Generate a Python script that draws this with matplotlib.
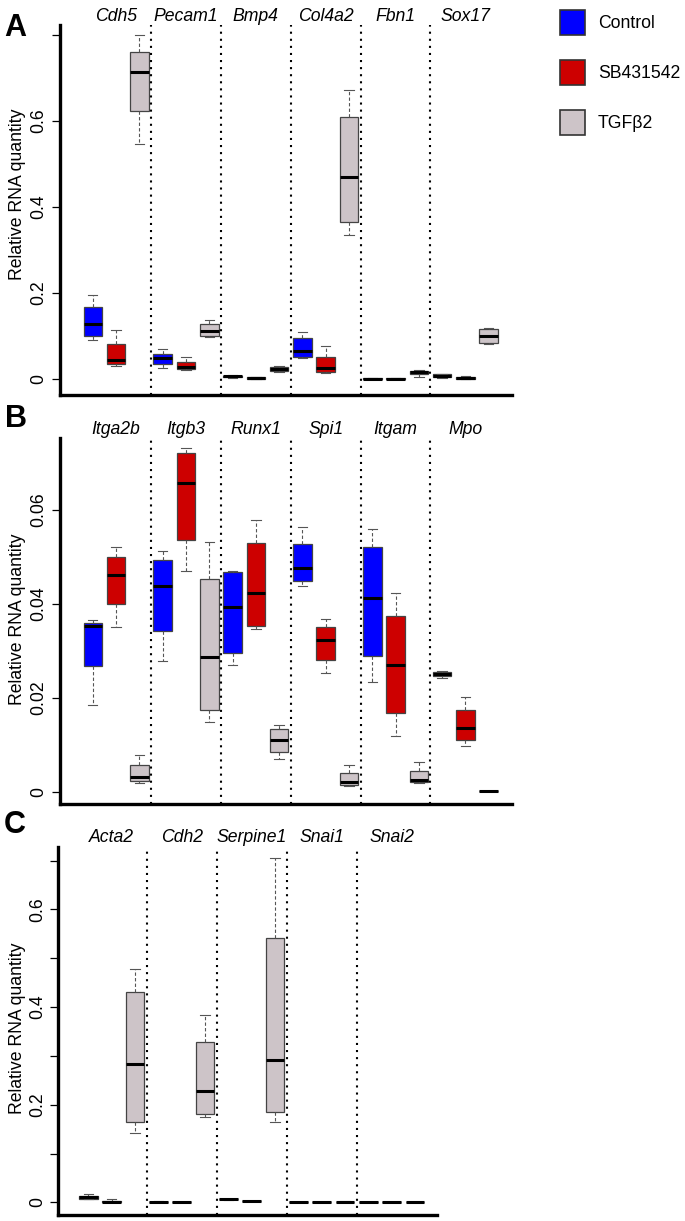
import matplotlib
matplotlib.use('Agg')
import matplotlib.pyplot as plt
from matplotlib.patches import Patch
from matplotlib.transforms import blended_transform_factory

plt.rcParams['font.family'] = ['Liberation Sans', 'DejaVu Sans']

groups = ['Control', 'SB431542', 'TGF\u03b22']
colors = ['#0000FF', '#CD0000', '#CDC4C8']

# every box is [whislo, q1, med, q3, whishi]
A_genes = ['Cdh5', 'Pecam1', 'Bmp4', 'Col4a2', 'Fbn1', 'Sox17']
A_control = [[0.091, 0.100, 0.127, 0.167, 0.195],
             [0.025, 0.036, 0.048, 0.058, 0.070],
             [0.003, 0.004, 0.006, 0.008, 0.009],
             [0.050, 0.051, 0.066, 0.095, 0.110],
             [0.0005, 0.0008, 0.001, 0.0012, 0.0015],
             [0.003, 0.004, 0.007, 0.011, 0.012]]
A_sb = [[0.030, 0.034, 0.044, 0.081, 0.114],
        [0.022, 0.024, 0.029, 0.040, 0.052],
        [0.0005, 0.001, 0.002, 0.004, 0.005],
        [0.013, 0.017, 0.025, 0.052, 0.077],
        [0.0005, 0.0008, 0.001, 0.0012, 0.0015],
        [0.000, 0.001, 0.003, 0.005, 0.008]]
A_tgf = [[0.546, 0.623, 0.713, 0.761, 0.800],
         [0.098, 0.099, 0.111, 0.129, 0.137],
         [0.017, 0.019, 0.023, 0.028, 0.031],
         [0.335, 0.365, 0.470, 0.610, 0.672],
         [0.005, 0.011, 0.016, 0.019, 0.021],
         [0.081, 0.083, 0.100, 0.116, 0.118]]

B_genes = ['Itga2b', 'Itgb3', 'Runx1', 'Spi1', 'Itgam', 'Mpo']
B_control = [[0.0184, 0.0267, 0.0353, 0.0360, 0.0365],
             [0.0279, 0.0342, 0.0438, 0.0493, 0.0513],
             [0.0270, 0.0296, 0.0394, 0.0468, 0.0470],
             [0.0438, 0.0449, 0.0477, 0.0528, 0.0563],
             [0.0233, 0.0289, 0.0413, 0.0521, 0.0558],
             [0.0243, 0.0246, 0.0250, 0.0255, 0.0256]]
B_sb = [[0.0351, 0.0399, 0.0462, 0.0499, 0.0521],
        [0.0470, 0.0535, 0.0657, 0.0721, 0.0731],
        [0.0346, 0.0353, 0.0422, 0.0530, 0.0578],
        [0.0252, 0.0280, 0.0322, 0.0350, 0.0367],
        [0.0119, 0.0168, 0.0270, 0.0374, 0.0423],
        [0.0098, 0.0111, 0.0136, 0.0174, 0.0202]]
B_tgf = [[0.0018, 0.0023, 0.0032, 0.0058, 0.0078],
         [0.0149, 0.0174, 0.0287, 0.0453, 0.0532],
         [0.0070, 0.0085, 0.0111, 0.0133, 0.0143],
         [0.0012, 0.0014, 0.0020, 0.0039, 0.0058],
         [0.0018, 0.0021, 0.0026, 0.0044, 0.0064],
         [0.0001, 0.0001, 0.0001, 0.0001, 0.0001]]

C_genes = ['Acta2', 'Cdh2', 'Serpine1', 'Snai1', 'Snai2']
C_control = [[0.0068, 0.0075, 0.0103, 0.0137, 0.0164],
             [0.0010, 0.0012, 0.0014, 0.0016, 0.0018],
             [0.0055, 0.0058, 0.0060, 0.0062, 0.0065],
             [0.0004, 0.0004, 0.0005, 0.0006, 0.0006],
             [0.0002, 0.0003, 0.0003, 0.0004, 0.0004]]
C_sb = [[0.0000, 0.0002, 0.0007, 0.0034, 0.0060],
        [0.0003, 0.0004, 0.0005, 0.0006, 0.0007],
        [0.0018, 0.0019, 0.0020, 0.0021, 0.0022],
        [0.0004, 0.0004, 0.0005, 0.0006, 0.0006],
        [0.0002, 0.0003, 0.0003, 0.0004, 0.0004]]
C_tgf = [[0.143, 0.164, 0.284, 0.431, 0.479],
         [0.175, 0.181, 0.229, 0.328, 0.383],
         [0.164, 0.185, 0.292, 0.542, 0.705],
         [0.0013, 0.0014, 0.0015, 0.0016, 0.0017],
         [0.0002, 0.0003, 0.0003, 0.0004, 0.0004]]

FS = 12.7

args = {
	'widths': 0.8,
	'capwidths': 0.4,
	'patch_artist': True,
	'showfliers': False,
	'manage_ticks': False,
	'boxprops': {'edgecolor': '#444444', 'linewidth': 0.9},
	'medianprops': {'color': 'black', 'linewidth': 2.2, 'solid_capstyle': 'butt'},
	'whiskerprops': {'color': '#555555', 'linewidth': 0.8, 'linestyle': (0, (3, 2))},
	'capprops': {'color': '#555555', 'linewidth': 0.8},
}


def draw_panel(ax, genes, series, xlim, ylim, ticks, ticklabels, label_xy, gene_y):
	for k, data in enumerate(series):
		stats = [dict(whislo=b[0], q1=b[1], med=b[2], q3=b[3], whishi=b[4]) for b in data]
		pos = [3 * g + k + 1 for g in range(len(genes))]
		art = ax.bxp(stats, positions=pos, **args)
		for box in art['boxes']:
			box.set_facecolor(colors[k])
	for g in range(1, len(genes)):
		ax.axvline(3 * g + 0.5, color='black', ls=(0, (1, 2.4)), lw=1.5, zorder=3)
	trans = blended_transform_factory(ax.transData, ax.transAxes)
	for g, name in enumerate(genes):
		ax.text(3 * g + 2, gene_y, name, transform=trans, ha='center', va='baseline',
				style='italic', fontsize=FS)
	ax.set_xlim(*xlim)
	ax.set_ylim(*ylim)
	ax.set_yticks(ticks, ticklabels, rotation=90, va='center')
	ax.tick_params(axis='y', length=6, width=0.9, pad=3, labelsize=FS)
	ax.tick_params(axis='x', bottom=False, labelbottom=False)
	ax.spines[['top', 'right']].set_visible(False)
	for s in ['left', 'bottom']:
		ax.spines[s].set_linewidth(2.4)
		ax.spines[s].set_capstyle('projecting')
	ax.set_ylabel('Relative RNA quantity', fontsize=FS)
	ax.yaxis.set_label_coords(*label_xy)


fig = plt.figure(figsize=(6.85, 12.21), dpi=100)
W, H = 685.0, 1221.0

axA = fig.add_axes([60 / W, 1 - 395 / H, 452 / W, 370 / H])
draw_panel(axA, A_genes, [A_control, A_sb, A_tgf], (-0.41, 19.0), (-0.0372, 0.8233),
		   [0, 0.2, 0.4, 0.6, 0.8], ['0', '0.2', '0.4', '0.6', ''], (-0.0763, 0.543), 1.0095)

axB = fig.add_axes([60 / W, 1 - 804 / H, 452 / W, 365.7 / H])
draw_panel(axB, B_genes, [B_control, B_sb, B_tgf], (-0.41, 19.0), (-0.0026, 0.0752),
		   [0, 0.02, 0.04, 0.06], ['0', '0.02', '0.04', '0.06'], (-0.0763, 0.506), 1.0118)

axC = fig.add_axes([58.3 / W, 1 - 1215 / H, 378.7 / W, 368 / H])
draw_panel(axC, C_genes, [C_control, C_sb, C_tgf], (-0.29, 15.95), (-0.026, 0.728),
		   [0, 0.1, 0.2, 0.3, 0.4, 0.5, 0.6, 0.7], ['0', '', '0.2', '', '0.4', '', '0.6', ''],
		   (-0.0866, 0.508), 1.0136)

for letter, x, y in [('A', 15, 36), ('B', 16, 427), ('C', 15, 833)]:
	fig.text(x / W, 1 - y / H, letter, fontsize=22, fontweight='bold', ha='center', va='baseline')

handles = [Patch(facecolor=c, edgecolor='#333333', linewidth=1.2) for c in colors]
fig.legend(handles, groups, loc='upper left', bbox_to_anchor=(560 / W, 1 - 10 / H),
		   frameon=False, fontsize=FS, handlelength=1.42, handleheight=1.81,
		   labelspacing=1.40, handletextpad=0.72, borderpad=0, borderaxespad=0)

fig.savefig('out.png', dpi=100)
